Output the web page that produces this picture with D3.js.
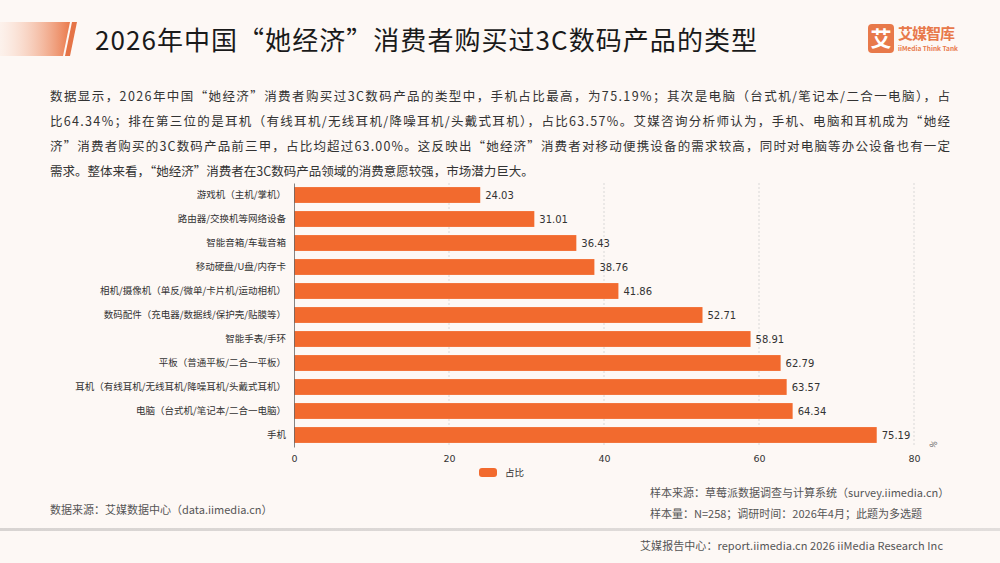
<!DOCTYPE html>
<html>
<head>
<meta charset="utf-8">
<script src="https://cdn.jsdelivr.net/npm/d3@7"></script>
<style>
  body { margin: 0; background: #fdf8f5; }
  svg { display: block; font-family: "Noto Sans CJK SC", "Noto Sans", sans-serif; }
</style>
</head>
<body>
<script>
// categories, top to bottom
var categories = [
  "游戏机（主机/掌机）",
  "路由器/交换机等网络设备",
  "智能音箱/车载音箱",
  "移动硬盘/U盘/内存卡",
  "相机/摄像机（单反/微单/卡片机/运动相机）",
  "数码配件（充电器/数据线/保护壳/贴膜等）",
  "智能手表/手环",
  "平板（普通平板/二合一平板）",
  "耳机（有线耳机/无线耳机/降噪耳机/头戴式耳机）",
  "电脑（台式机/笔记本/二合一电脑）",
  "手机"
];
var values = [24.03, 31.01, 36.43, 38.76, 41.86, 52.71, 58.91, 62.79, 63.57, 64.34, 75.19];
var xTicks = [0, 20, 40, 60, 80];
var seriesName = "占比";

var title = "2026年中国“她经济”消费者购买过3C数码产品的类型";
var paragraph = [
  "数据显示，2026年中国“她经济”消费者购买过3C数码产品的类型中，手机占比最高，为75.19%；其次是电脑（台式机/笔记本/二合一电脑），占",
  "比64.34%；排在第三位的是耳机（有线耳机/无线耳机/降噪耳机/头戴式耳机），占比63.57%。艾媒咨询分析师认为，手机、电脑和耳机成为“她经",
  "济”消费者购买的3C数码产品前三甲，占比均超过63.00%。这反映出“她经济”消费者对移动便携设备的需求较高，同时对电脑等办公设备也有一定",
  "需求。整体来看，“她经济”消费者在3C数码产品领域的消费意愿较强，市场潜力巨大。"
];

var width = 1000, height = 563;
var orange = "#f26a2e";

var svg = d3.select("body").append("svg")
  .attr("width", width)
  .attr("height", height);

var defs = svg.append("defs");
var grad = defs.append("linearGradient").attr("id", "titleGrad");
grad.append("stop").attr("offset", "0%").attr("stop-color", "#fbe3d6").attr("stop-opacity", 0.3);
grad.append("stop").attr("offset", "100%").attr("stop-color", "#ea7a4c");
var sepGrad = defs.append("linearGradient").attr("id", "sepGrad");
sepGrad.append("stop").attr("offset", "0%").attr("stop-color", "#d8d4d2");
sepGrad.append("stop").attr("offset", "100%").attr("stop-color", "#e2dedc");

// background
svg.append("rect").attr("width", width).attr("height", height).attr("fill", "#fdf8f5");

//title decoration
svg.append("path")
  .attr("d", "M0,22 L70,22 L63,56 L0,56 Z")
  .attr("fill", "url(#titleGrad)");
svg.append("path")
  .attr("d", "M72,22 L77,22 L70,56 L65,56 Z")
  .attr("fill", "#e57447");

svg.append("text")
  .attr("x", 95).attr("y", 50)
  .attr("font-size", 26)
  .attr("fill", "#1a1a1a")
  .attr("textLength", 662)
  .text(title);

// logo
var logo = svg.append("g").attr("transform", "translate(868,24)");
logo.append("rect").attr("width", 26).attr("height", 29).attr("rx", 4).attr("fill", "#e8794a");
logo.append("text").attr("x", 13).attr("y", 22).attr("text-anchor", "middle")
  .attr("font-size", 21).attr("font-weight", "bold").attr("fill", "#fff").text("艾");
logo.append("text").attr("x", 30).attr("y", 15)
  .attr("font-size", 15).attr("font-weight", "bold").attr("fill", "#e8794a")
  .attr("textLength", 57).text("艾媒智库");
logo.append("text").attr("x", 30).attr("y", 27)
  .attr("font-size", 6.5).attr("font-weight", "bold").attr("fill", "#e8794a").text("iiMedia Think Tank");

// paragraph
svg.append("g").selectAll("text")
  .data(paragraph)
  .enter().append("text")
  .attr("x", 50)
  .attr("y", function(d, i){ return 101 + i * 25; })
  .attr("font-size", 12.5)
  .attr("fill", "#333")
  .attr("textLength", function(d, i){ return i < 3 ? 900 : null; })
  .text(function(d){ return d; });

// chart
var xScale = d3.scaleLinear().domain([0, 80]).range([294, 914]);
var yScale = d3.scaleBand().domain(categories).range([183, 447]).paddingInner(0.34).paddingOuter(0.17);

// grid lines
svg.append("g").selectAll("line")
  .data(xTicks.slice(1))
  .enter().append("line")
  .attr("x1", function(d){ return xScale(d); })
  .attr("x2", function(d){ return xScale(d); })
  .attr("y1", 183).attr("y2", 447)
  .attr("stroke", "#cfcfcf")
  .attr("stroke-dasharray", "2,2")
  .attr("stroke-width", 0.8);

// bars
svg.append("g").selectAll("rect")
  .data(values)
  .enter().append("rect")
  .attr("x", xScale(0))
  .attr("y", function(d, i){ return yScale(categories[i]); })
  .attr("width", function(d){ return xScale(d) - xScale(0); })
  .attr("height", yScale.bandwidth())
  .attr("fill", orange);

// value labels
svg.append("g").selectAll("text")
  .data(values)
  .enter().append("text")
  .attr("x", function(d){ return xScale(d) + 5; })
  .attr("y", function(d, i){ return yScale(categories[i]) + yScale.bandwidth() / 2 + 3.5; })
  .attr("font-family", "DejaVu Sans, sans-serif")
  .attr("font-size", 10)
  .attr("fill", "#333")
  .text(function(d){ return d.toFixed(2); });

// y axis
var yAxis = d3.axisLeft(yScale).tickSize(0).tickPadding(8);
var yG = svg.append("g")
  .attr("transform", "translate(" + xScale(0) + ",0)")
  .call(yAxis);
yG.select(".domain").attr("stroke", "#666").attr("stroke-width", 0.8);
yG.selectAll("text").attr("font-size", 9.5).attr("fill", "#333")
  .attr("font-family", "Noto Sans CJK SC, sans-serif");

// x axis
var xAxis = d3.axisBottom(xScale).tickValues(xTicks).tickSize(0).tickPadding(8);
var xG = svg.append("g")
  .attr("transform", "translate(0,447)")
  .call(xAxis);
xG.select(".domain").remove();
xG.selectAll("text").attr("font-size", 9.5).attr("fill", "#333")
  .attr("font-family", "DejaVu Sans, sans-serif");

svg.append("text")
  .attr("transform", "translate(934,449) rotate(-60)")
  .attr("font-size", 8).attr("fill", "#555")
  .text("%");

// legend
svg.append("rect").attr("x", 479).attr("y", 468).attr("width", 18).attr("height", 9).attr("rx", 3).attr("fill", orange);
svg.append("text").attr("x", 505).attr("y", 476).attr("font-size", 9.5).attr("fill", "#333").text(seriesName);

// footer
svg.append("text").attr("x", 50).attr("y", 514).attr("font-size", 11).attr("fill", "#555")
  .text("数据来源：艾媒数据中心（data.iimedia.cn）");
svg.append("text").attr("x", 650).attr("y", 497).attr("font-size", 11).attr("fill", "#555")
  .text("样本来源：草莓派数据调查与计算系统（survey.iimedia.cn）");
svg.append("text").attr("x", 650).attr("y", 518).attr("font-size", 11).attr("fill", "#555")
  .text("样本量：N=258；调研时间：2026年4月；此题为多选题");

svg.append("rect").attr("x", 0).attr("y", 528).attr("width", width).attr("height", 3).attr("fill", "url(#sepGrad)");

svg.append("text").attr("x", 640).attr("y", 550).attr("font-size", 11).attr("fill", "#555")
  .attr("textLength", 303)
  .text("艾媒报告中心：report.iimedia.cn  2026 iiMedia Research Inc");
</script>
</body>
</html>
